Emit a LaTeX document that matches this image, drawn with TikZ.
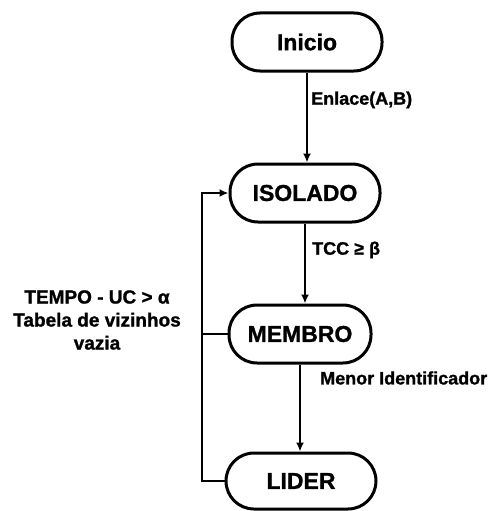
\documentclass[tikz,border=0pt]{standalone}
\usepackage{fontspec}
\setmainfont{Liberation Sans}[BoldFeatures={FakeBold=1.2}]
\usetikzlibrary{arrows.meta}
\begin{document}
\begin{tikzpicture}[x=1pt,y=-1pt,
  state/.style={draw, line width=3pt, rounded corners=28pt, minimum width=150pt, minimum height=58pt, inner sep=0pt, font=\bfseries\fontsize{23}{25}\selectfont},
  conn/.style={line width=2.6pt, -{Latex[length=9pt,width=8pt]}},
  plain/.style={line width=2.6pt},
  lbl/.style={inner sep=0pt, font=\bfseries\fontsize{18}{23}\selectfont}]
\useasboundingbox (0,0) rectangle (497,511);
\node[state] (ini) at (307,42) {Inicio};
\node[state] (iso) at (305,193) {ISOLADO};
\node[state, minimum width=142pt] (mem) at (300,334) {MEMBRO};
\node[state, minimum height=56pt] (lid) at (301,481) {LIDER};
\coordinate (L) at (202,0);
\draw[conn] (ini.south) -- (ini.south |- iso.north);
\draw[conn] (iso.south) -- (iso.south |- mem.north);
\draw[conn] (mem.south) -- (mem.south |- lid.north);
\draw[conn] (lid.west) -- (lid.west -| L) |- (iso.west);
\draw[plain] (mem.west) -- (mem.west -| L);
\node[lbl, anchor=west] (e1) at (311,100) {Enlace(A,B)};
\node[lbl, anchor=west] (e2) at (312,250) {TCC ≥ β};
\node[lbl, anchor=west] (e3) at (320,378) {Menor Identificador};
\node[lbl, align=center, font=\bfseries\fontsize{19}{23}\selectfont] (e4) at (97,320) {TEMPO - UC > α\\Tabela de vizinhos\\vazia};
\end{tikzpicture}
\end{document}
